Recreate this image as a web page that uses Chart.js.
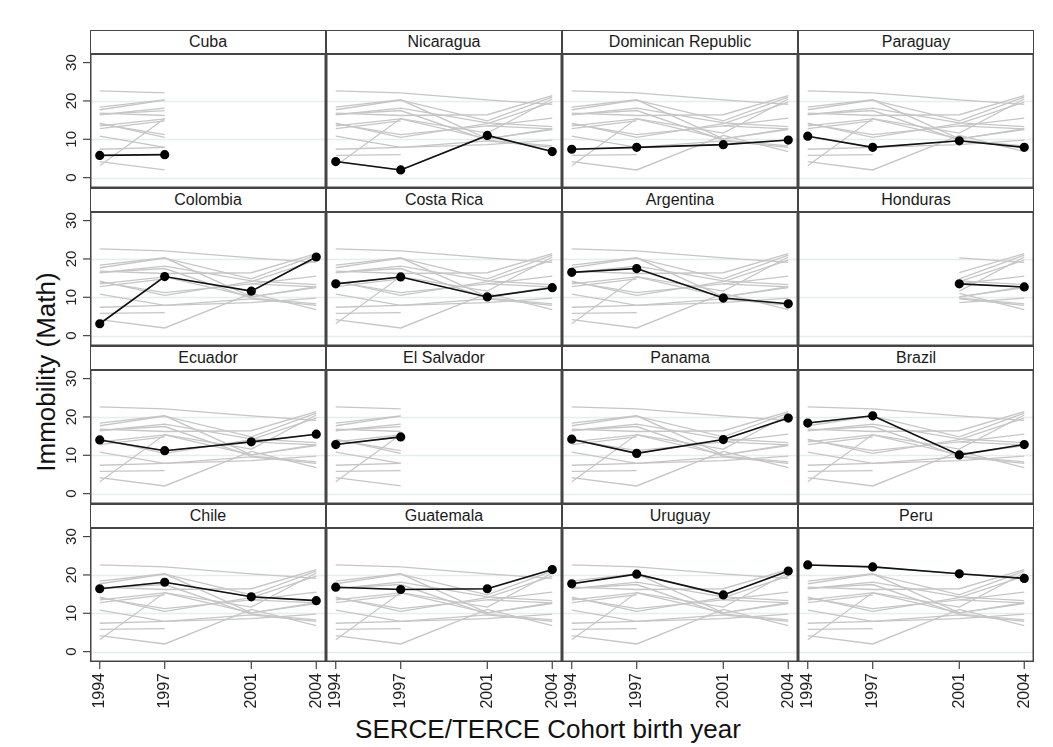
<!DOCTYPE html>
<html>
<head>
<meta charset="utf-8">
<script src="https://cdn.jsdelivr.net/npm/chart.js@4/dist/chart.umd.min.js"></script>
<style>
    body { margin: 0; background: #fff; width: 1053px; height: 747px; overflow: hidden; position: relative;
           font-family: "Liberation Sans", Arial, sans-serif; }
    .strip { position: absolute; box-sizing: border-box; border: 1.5px solid #444; background: #fff;
             display: flex; align-items: center; justify-content: center; font-size: 16px; color: #1a1a1a; }
    canvas { position: absolute; }
    .ytitle { position: absolute; left: 46px; top: 372px; transform: translate(-50%, -50%) rotate(-90deg);
              font-size: 26px; color: #111; white-space: nowrap; }
    .xtitle { position: absolute; left: 548px; top: 714px; transform: translateX(-50%);
              font-size: 26px; color: #111; white-space: nowrap; }
</style>
</head>
<body>
<div class="ytitle">Immobility (Math)</div>
<div class="xtitle">SERCE/TERCE Cohort birth year</div>
<script>
// cohort birth years and y axis labels
const years = [1994, 1997, 2001, 2004];
const yTicks = [0, 10, 20, 30];
const gridValues = [0, 10, 20];

// immobility (math) per country, one value per cohort year (null = not in that wave)
const cuba = [5.8, 6.0, null, null];
const nicaragua = [4.2, 2.0, 11.0, 6.8];
const dominicanRepublic = [7.4, 7.9, 8.6, 9.8];
const paraguay = [10.8, 7.9, 9.6, 7.9];
const colombia = [3.1, 15.4, 11.6, 20.5];
const costaRica = [13.5, 15.3, 10.1, 12.5];
const argentina = [16.5, 17.5, 9.8, 8.3];
const honduras = [null, null, 13.5, 12.7];
const ecuador = [14.0, 11.2, 13.5, 15.5];
const elSalvador = [12.8, 14.8, null, null];
const panama = [14.2, 10.5, 14.1, 19.7];
const brazil = [18.4, 20.3, 10.1, 12.8];
const chile = [16.4, 18.1, 14.3, 13.3];
const guatemala = [16.8, 16.2, 16.4, 21.4];
const uruguay = [17.7, 20.2, 14.8, 21.0];
const peru = [22.6, 22.1, 20.3, 19.1];

const countryNames = ['Cuba', 'Nicaragua', 'Dominican Republic', 'Paraguay',
    'Colombia', 'Costa Rica', 'Argentina', 'Honduras',
    'Ecuador', 'El Salvador', 'Panama', 'Brazil',
    'Chile', 'Guatemala', 'Uruguay', 'Peru'];
const countryValues = [cuba, nicaragua, dominicanRepublic, paraguay,
    colombia, costaRica, argentina, honduras,
    ecuador, elSalvador, panama, brazil,
    chile, guatemala, uruguay, peru];

// panel grid geometry
const gridLeft = 90, colW = 236, gridTop = 30, rowPitch = 158, stripH = 23, plotH = 135;
const padLeft = 50, padBottom = 50;

const panelDecor = {
    id: 'panelDecor',
    beforeDatasetsDraw(chart) {
        const { ctx, chartArea: a, scales: { y } } = chart;
        ctx.save();
        ctx.strokeStyle = '#e4eef1';
        ctx.lineWidth = 1.3;
        gridValues.forEach(v => {
            const py = Math.round(y.getPixelForValue(v)) + 0.5;
            ctx.beginPath();
            ctx.moveTo(a.left, py);
            ctx.lineTo(a.right, py);
            ctx.stroke();
        });
        ctx.restore();
    },
    afterDatasetsDraw(chart, args, opts) {
        const { ctx, chartArea: a, scales: { x, y } } = chart;
        ctx.save();
        ctx.strokeStyle = '#444';
        ctx.lineWidth = 1.5;
        ctx.strokeRect(a.left + 0.75, a.top + 0.75, a.right - a.left - 1.5, a.bottom - a.top - 1.5);

        ctx.fillStyle = '#222';
        ctx.strokeStyle = '#444';
        ctx.lineWidth = 1.2;
        if (opts.leftAxis) {
            ctx.font = '15px "Liberation Sans", Arial, sans-serif';
            ctx.textAlign = 'center';
            ctx.textBaseline = 'middle';
            yTicks.forEach(v => {
                const py = y.getPixelForValue(v);
                ctx.beginPath();
                ctx.moveTo(a.left - 7, py);
                ctx.lineTo(a.left, py);
                ctx.stroke();
                ctx.save();
                ctx.translate(a.left - 18, py);
                ctx.rotate(-Math.PI / 2);
                ctx.fillText(String(v), 0, 0);
                ctx.restore();
            });
        }
        if (opts.bottomAxis) {
            ctx.font = '16px "Liberation Sans", Arial, sans-serif';
            ctx.textAlign = 'right';
            ctx.textBaseline = 'middle';
            years.forEach(v => {
                const px = x.getPixelForValue(v);
                ctx.beginPath();
                ctx.moveTo(px, a.bottom);
                ctx.lineTo(px, a.bottom + 7);
                ctx.stroke();
                ctx.save();
                ctx.translate(px, a.bottom + 11);
                ctx.rotate(-Math.PI / 2);
                ctx.fillText(String(v), 0, 0);
                ctx.restore();
            });
        }
        ctx.restore();
    }
};

function toPoints(values, focus) {
    return years.map((yr, i) => ({ x: yr, y: (focus[i] === null) ? null : values[i] }));
}

countryNames.forEach((name, idx) => {
    const col = idx % 4, row = Math.floor(idx / 4);
    const left = col === 0, bottom = row === 3;
    const x0 = gridLeft + col * colW;
    const y0 = gridTop + row * rowPitch;

    const strip = document.createElement('div');
    strip.className = 'strip';
    strip.style.left = x0 + 'px';
    strip.style.top = y0 + 'px';
    strip.style.width = colW + 'px';
    strip.style.height = (stripH + 1.5) + 'px';
    strip.textContent = name;
    document.body.appendChild(strip);

    const cv = document.createElement('canvas');
    const w = colW + (left ? padLeft : 0);
    const h = plotH + (bottom ? padBottom : 0);
    cv.width = w; cv.height = h;
    cv.style.width = w + 'px'; cv.style.height = h + 'px';
    cv.style.left = (x0 - (left ? padLeft : 0)) + 'px';
    cv.style.top = (y0 + stripH) + 'px';
    document.body.appendChild(cv);

    const focus = countryValues[idx];
    // every country in grey behind, restricted to the years the panel's country has
    const datasets = countryValues.map(vals => ({
        data: toPoints(vals, focus),
        borderColor: '#c6c6c6',
        borderWidth: 1.3,
        pointRadius: 0,
        spanGaps: false,
        order: 1
    }));
    datasets.push({
        data: toPoints(focus, focus),
        borderColor: '#111',
        borderWidth: 1.6,
        pointRadius: 3.8,
        pointBackgroundColor: '#000',
        pointBorderColor: '#000',
        spanGaps: true,
        order: 0
    });

    new Chart(cv.getContext('2d'), {
        type: 'line',
        data: { datasets },
        options: {
            responsive: false,
            animation: false,
            devicePixelRatio: 1,
            layout: {
                autoPadding: false,
                padding: { left: left ? padLeft : 0, bottom: bottom ? padBottom : 0, top: 0, right: 0 }
            },
            elements: { line: { tension: 0 } },
            scales: {
                x: { type: 'linear', min: 1993.55, max: 2004.45, display: false },
                y: { min: -2.7, max: 32.5, display: false }
            },
            plugins: {
                legend: { display: false },
                tooltip: { enabled: false },
                panelDecor: { leftAxis: left, bottomAxis: bottom }
            }
        },
        plugins: [panelDecor]
    });
});
</script>
</body>
</html>
